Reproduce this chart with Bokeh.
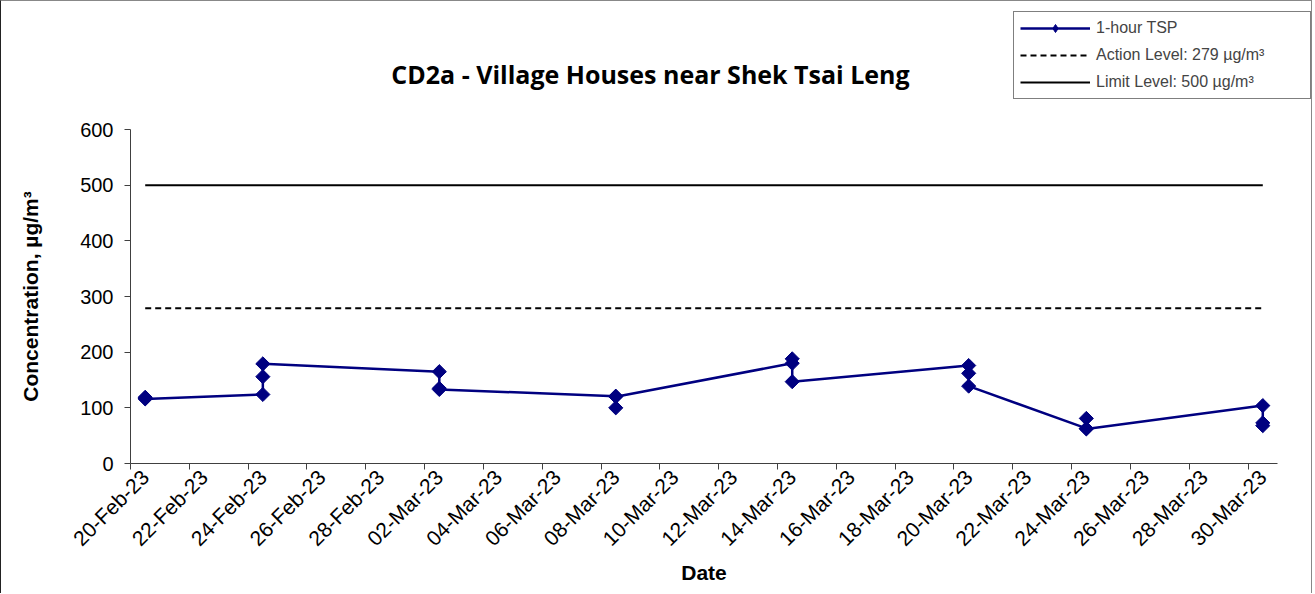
import math
import pandas as pd
from bokeh.plotting import figure
from bokeh.layouts import column
from bokeh.models import (Legend, LegendItem, Label, FixedTicker, DatetimeTickFormatter,
                          Range1d, ColumnDataSource)
from bokeh.embed import file_html
from bokeh.resources import INLINE

# ---------------- data ----------------
sample_dates = (["2023-02-20"] * 3 + ["2023-02-24"] * 3 + ["2023-03-02"] * 3 +
                ["2023-03-08"] * 3 + ["2023-03-14"] * 3 + ["2023-03-20"] * 3 +
                ["2023-03-24"] * 3 + ["2023-03-30"] * 3)
tsp_values = [119, 117, 116,
              124, 156, 179,
              165, 135, 133,
              121, 100, 120,
              180, 188, 147,
              176, 162, 139,
              63, 81, 62,
              104, 73, 68]
action_level = 279
limit_level = 500
tick_dates = pd.date_range("2023-02-20", "2023-03-30", freq="2D")
x_start, x_end = "2023-02-20", "2023-03-31"
y_ticks = [0, 100, 200, 300, 400, 500, 600]

title_text = "CD2a - Village Houses near Shek Tsai Leng"
legend_labels = ["1-hour TSP", "Action Level: 279 \u00b5g/m\u00b3", "Limit Level: 500 \u00b5g/m\u00b3"]

# points sit in the middle of each day slot
half_day = pd.Timedelta(hours=12)
x_vals = pd.to_datetime(sample_dates) + half_day
src = ColumnDataSource(dict(x=x_vals, y=tsp_values))
lvl_x = [x_vals.min(), x_vals.max()]

FONT = "Liberation Sans"
NAVY = "#000080"
AXIS = "#404040"
W = 1310
TOP_H = 100
MAIN_H = 492

# ---------------- header strip: title + legend ----------------
top = figure(width=W, height=TOP_H, x_range=Range1d(0, W), y_range=Range1d(0, TOP_H),
             x_axis_location=None, y_axis_location=None, min_border=0,
             output_backend="svg", toolbar_location=None)
has_fa = "frame_align" in top.properties()
if has_fa:
    top.frame_align = False
top.xgrid.visible = False
top.ygrid.visible = False
top.outline_line_color = None
top.border_fill_color = "white"

fx = 0 if has_fa else 129          # frame left of the header strip
leg_w = 296 if has_fa else 285
leg_left = 1012 if has_fa else 1276 - leg_w

title = Label(x=649 - fx, y=TOP_H - 72, x_units="screen", y_units="screen", text=title_text,
              text_font="Open Sans", text_font_style="bold", text_font_size="25px",
              text_align="center", text_baseline="middle", text_color="black")
top.add_layout(title)

# legend samples (their data lie far outside this strip's range, so only the key shows)
k_line = top.line("x", "y", source=src, line_color=NAVY, line_width=2.5)
k_pts = top.scatter("x", "y", source=src, marker="diamond",
                    fill_color=NAVY, line_color=NAVY)
k_action = top.line(lvl_x, [action_level] * 2, line_color="black", line_width=2, line_dash="6 4")
k_limit = top.line(lvl_x, [limit_level] * 2, line_color="black", line_width=2)

legend = Legend(items=[LegendItem(label=legend_labels[0], renderers=[k_line, k_pts]),
                       LegendItem(label=legend_labels[1], renderers=[k_action]),
                       LegendItem(label=legend_labels[2], renderers=[k_limit])],
                location=(leg_left - fx, TOP_H - 98), orientation="vertical",
                glyph_width=70, glyph_height=20, label_standoff=6,
                label_width=leg_w - 12 - 76,
                padding=6, spacing=7, margin=0,
                label_text_font=FONT, label_text_font_size="16px",
                border_line_color="black", border_line_width=1,
                background_fill_color="white", background_fill_alpha=1)
top.add_layout(legend)

# ---------------- main chart ----------------
p = figure(width=W, height=MAIN_H, x_axis_type="datetime",
           output_backend="svg", toolbar_location=None,
           min_border_left=129, min_border_right=W - 1276,
           min_border_top=28, min_border_bottom=130)
if has_fa:
    p.frame_align = False

p.x_range = Range1d(pd.Timestamp(x_start), pd.Timestamp(x_end))
p.y_range = Range1d(0, 600)

p.line(lvl_x, [limit_level] * 2, line_color="black", line_width=2)
p.line(lvl_x, [action_level] * 2, line_color="black", line_width=2, line_dash="6 4")
p.line("x", "y", source=src, line_color=NAVY, line_width=2.5)
p.scatter("x", "y", source=src, marker="square", angle=math.pi / 4,
          size=10, fill_color=NAVY, line_color=NAVY)

p.xgrid.visible = False
p.ygrid.visible = False
p.outline_line_color = None
p.background_fill_color = "white"
p.border_fill_color = "white"

fmt = "%d-%b-%y"
# labels sit in the middle of each date slot; tick marks at the slot edges (minor ticks)
xa = p.xaxis[0]
xa.ticker = FixedTicker(ticks=[(t + half_day).value / 1e6 for t in tick_dates],
                        minor_ticks=[t.value / 1e6 for t in tick_dates])
xa.formatter = DatetimeTickFormatter(days=fmt, months=fmt, hours=fmt, years=fmt,
                                     milliseconds=fmt, seconds=fmt, minsec=fmt,
                                     minutes=fmt, hourmin=fmt)
xa.axis_line_color = AXIS
xa.major_tick_line_color = None
xa.major_tick_in = 0
xa.major_tick_out = 6
xa.minor_tick_line_color = AXIS
xa.minor_tick_in = 0
xa.minor_tick_out = 6
xa.major_label_orientation = math.pi / 4
xa.major_label_text_font = FONT
xa.major_label_text_font_size = "21px"
xa.major_label_text_color = "black"
xa.major_label_standoff = 4
xa.axis_label = "Date"
xa.axis_label_text_font = FONT
xa.axis_label_text_font_style = "bold"
xa.axis_label_text_font_size = "21px"
xa.axis_label_text_color = "black"
xa.axis_label_standoff = 0

ya = p.yaxis[0]
ya.ticker = FixedTicker(ticks=y_ticks)
ya.axis_line_color = AXIS
ya.major_tick_line_color = AXIS
ya.minor_tick_line_color = None
ya.major_tick_in = 0
ya.major_tick_out = 6
ya.major_label_text_font = FONT
ya.major_label_text_font_size = "20px"
ya.major_label_text_color = "black"
ya.major_label_standoff = 11
ya.axis_label = "Concentration, \u00b5g/m\u00b3"
ya.axis_label_text_font = FONT
ya.axis_label_text_font_style = "bold"
ya.axis_label_text_font_size = "21px"
ya.axis_label_text_color = "black"
ya.axis_label_standoff = 35

page = column(top, p, spacing=0)
page.styles = {"border-left": "1px solid #222222", "border-top": "1px solid #888888",
               "border-right": "1px solid #888888"}

open("out.html", "w").write(file_html(page, INLINE))
